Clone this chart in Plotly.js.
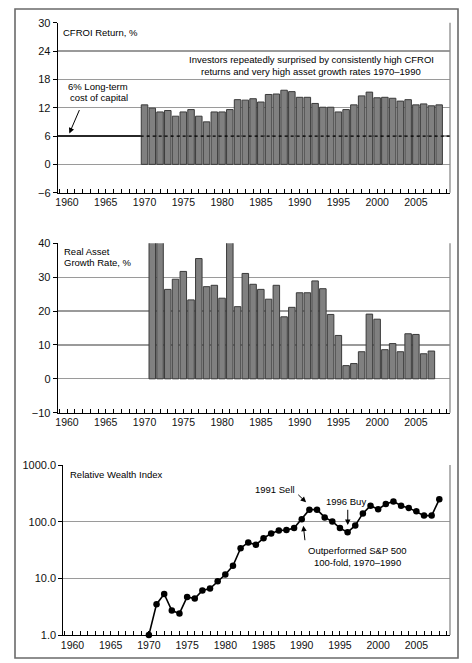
<!DOCTYPE html>
<html>
<head>
<meta charset="utf-8">
<script src="https://cdn.plot.ly/plotly-3.0.1.min.js"></script>
<style>html,body{margin:0;padding:0;background:#fff;}#chart{width:472px;height:663px;}</style>
</head>
<body>
<div id="chart"></div>
<script>
// ---- data ----
const cfroiYears = [1970,1971,1972,1973,1974,1975,1976,1977,1978,1979,1980,1981,1982,1983,1984,1985,1986,1987,1988,1989,1990,1991,1992,1993,1994,1995,1996,1997,1998,1999,2000,2001,2002,2003,2004,2005,2006,2007,2008];
const cfroi = [12.6,11.9,11.1,11.4,10.2,11.1,11.6,10.2,9.0,11.1,11.1,11.6,13.7,13.6,13.9,13.2,14.8,14.9,15.7,15.4,14.2,14.2,12.9,12.1,12.1,11.1,11.6,12.6,14.5,15.3,14.1,14.2,14.0,13.4,13.7,12.6,12.8,12.4,12.6];
const growthYears = [1971,1972,1973,1974,1975,1976,1977,1978,1979,1980,1981,1982,1983,1984,1985,1986,1987,1988,1989,1990,1991,1992,1993,1994,1995,1996,1997,1998,1999,2000,2001,2002,2003,2004,2005,2006,2007];
const growth = [40.6,40.5,26.4,29.4,31.7,23.3,35.5,27.2,27.6,23.8,40.6,21.3,31.1,27.9,26.4,23.5,27.6,18.3,21.1,25.4,25.4,28.9,26.6,19.0,12.8,3.9,4.5,8.0,19.1,17.6,8.6,10.4,8.0,13.3,13.1,7.4,8.2];
const wealthYears = cfroiYears;
const wealth = [1.0,3.5,5.3,2.7,2.4,4.7,4.4,6.1,6.6,8.9,11.7,16.7,34,43,39,51,62,70,71,77,110,163,163,119,101,77,65,86,140,191,165,205,228,191,175,152,128,128,248];
const costOfCapital = 6;
const costStartYear = 1958.8, costBarStart = 1969.5, costEndYear = 2009.4;
const cfroiTicks = [-6,0,6,12,18,24,30];
const growthTicks = [-10,0,10,20,30,40];
const wealthTicks = [1,10,100,1000];

// ---- styles ----
const W = 472, H = 663;
const FONT = '"Liberation Sans", Arial, Helvetica, sans-serif';
const px = v => v / W, py = v => 1 - v / H;
const XR = [1958.8, 2009.4];
const barStyle = {color:'#808080', line:{color:'#3a3a3a', width:1}};

function xAxis(domain, anchor){
  return {domain:domain, range:XR, anchor:anchor, tick0:1960, dtick:5, ticks:'inside', ticklen:4,
    tickcolor:'#000', tickwidth:1, showline:true, linecolor:'#000', linewidth:1, showgrid:false, zeroline:false,
    tickfont:{family:FONT, size:10.5, color:'#111'},
    minor:{dtick:1, tick0:1960, ticks:'inside', ticklen:4, tickcolor:'#000', tickwidth:1, showgrid:false}};
}
function yAxis(domain, anchor, range, ticks, extra){
  return Object.assign({domain:domain, range:range, anchor:anchor, tickvals:ticks, ticks:'outside', ticklen:4,
    tickcolor:'#000', showline:true, linecolor:'#000', linewidth:1, showgrid:true, gridcolor:'#9a9a9a', gridwidth:1.3,
    zeroline:false, tickfont:{family:FONT, size:11, color:'#111'}}, extra||{});
}

const traces = [
  {type:'bar', x:cfroiYears, y:cfroi, xaxis:'x', yaxis:'y', marker:barStyle, width:0.84, hoverinfo:'skip'},
  {type:'bar', x:growthYears, y:growth, xaxis:'x2', yaxis:'y2', marker:barStyle, width:0.84, cliponaxis:false, hoverinfo:'skip'},
  {type:'scatter', mode:'lines+markers', x:wealthYears, y:wealth, xaxis:'x3', yaxis:'y3',
    line:{color:'#000', width:1.6}, marker:{color:'#000', size:6.5, symbol:'circle'}, hoverinfo:'skip', cliponaxis:false}
];

const d1 = [py(192.7), py(22.7)], d2 = [py(412.7), py(243.3)], d3 = [py(635), py(465)];
const dx12 = [px(57.7), px(450)], dx3 = [px(63.3), px(450)];

function txt(text, x, y, anchor){
  return {text:text, xref:'paper', yref:'paper', x:px(x), y:py(y), xanchor:anchor||'left', yanchor:'middle',
    showarrow:false, font:{family:FONT, size:9.5, color:'#000'}};
}
function arrow(xr, yr, x0, y0, x1, y1){
  return {text:'', xref:xr, yref:yr, axref:xr, ayref:yr, x:x1, y:y1, ax:x0, ay:y0, showarrow:true,
    arrowhead:2, arrowsize:1.1, arrowwidth:1, arrowcolor:'#000', standoff:0, startstandoff:0};
}

const layout = {
  width:W, height:H, margin:{l:0,r:0,t:0,b:0}, paper_bgcolor:'#fff', plot_bgcolor:'rgba(0,0,0,0)',
  showlegend:false, bargap:0.15,
  xaxis: xAxis(dx12, 'y'),
  yaxis: yAxis(d1, 'x', [-6,30], cfroiTicks),
  xaxis2: xAxis(dx12, 'y2'),
  yaxis2: yAxis(d2, 'x2', [-10,40], growthTicks),
  xaxis3: xAxis(dx3, 'y3'),
  yaxis3: yAxis(d3, 'x3', [0,3], wealthTicks, {type:'log', ticktext:wealthTicks.map(v=>v.toFixed(1))}),
  shapes: [
    // outer frame
    {type:'rect', xref:'paper', yref:'paper', x0:px(15), x1:px(458), y0:py(658), y1:py(9), line:{color:'#6a6a6a', width:1.6}},
    // right borders of panels
    {type:'line', xref:'x domain', yref:'y domain', x0:1, x1:1, y0:0, y1:1, line:{color:'#8a8a8a', width:1.3}},
    {type:'line', xref:'x2 domain', yref:'y2 domain', x0:1, x1:1, y0:0, y1:1, line:{color:'#8a8a8a', width:1.3}},
    {type:'line', xref:'x3 domain', yref:'y3 domain', x0:1, x1:1, y0:0, y1:1, line:{color:'#8a8a8a', width:1.3}},
    // cost of capital line
    {type:'line', xref:'x', yref:'y', x0:costStartYear, x1:costBarStart, y0:costOfCapital, y1:costOfCapital, line:{color:'#000', width:1.5}, layer:'above'},
    {type:'line', xref:'x', yref:'y', x0:costBarStart, x1:costEndYear, y0:costOfCapital, y1:costOfCapital, line:{color:'#000', width:1.3, dash:'3px,3px'}, layer:'above'}
  ],
  annotations: [
    txt('CFROI Return, %', 61, 32.3),
    txt('6% Long-term', 98, 86.3, 'center'),
    txt('cost of capital', 98.5, 97.8, 'center'),
    txt('Investors repeatedly surprised by consistently high CFROI', 311, 59.8, 'center'),
    txt('returns and very high asset growth rates 1970\u20131990', 311, 71.2, 'center'),
    arrow('x', 'y', 1961.68, 11.82, 1960.3, 6.56),
    txt('Real Asset', 61.7, 251.7),
    txt('Growth Rate, %', 61.7, 262.7),
    txt('Relative Wealth Index', 68.3, 474.3),
    txt('1991 Sell', 275, 489, 'center'),
    txt('1996 Buy', 345.7, 501.7, 'center'),
    txt('Outperformed S&amp;P 500', 357.3, 550, 'center'),
    txt('100-fold, 1970\u20131990', 357.3, 562.3, 'center'),
    arrow('x3', 'y3', 1989.35, 2.50, 1990.57, 2.342),
    arrow('x3', 'y3', 1996.02, 2.236, 1996.02, 1.941),
    arrow('x3', 'y3', 1990.44, 1.646, 1990.21, 1.929)
  ]
};

Plotly.newPlot('chart', traces, layout, {staticPlot:true, displayModeBar:false});
</script>
</body>
</html>
